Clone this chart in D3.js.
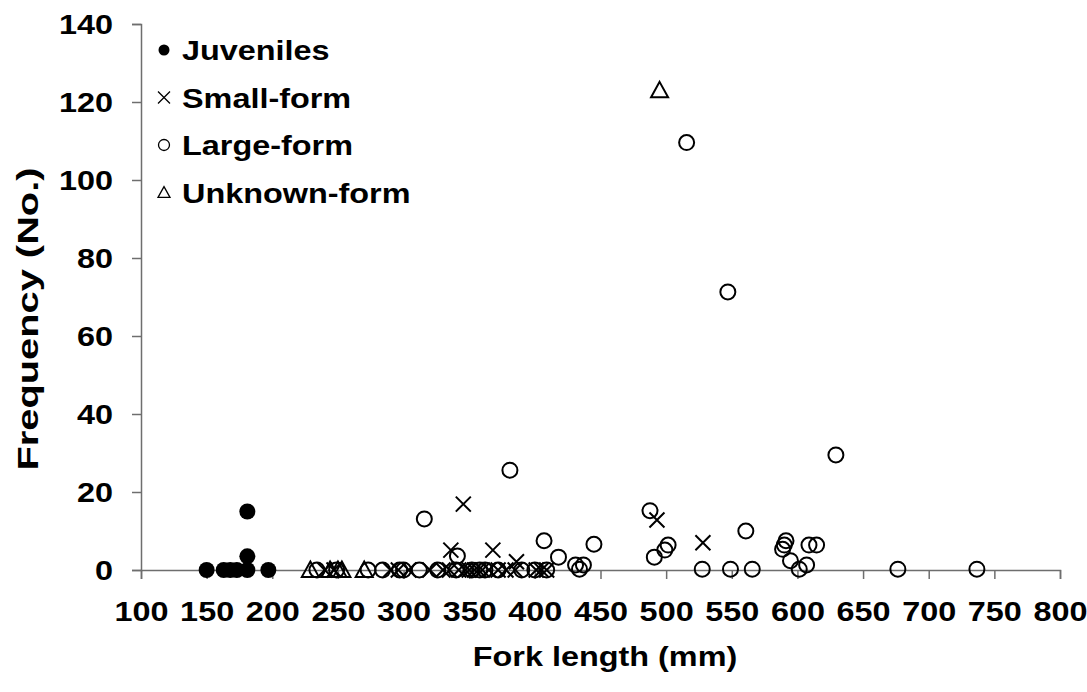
<!DOCTYPE html>
<html>
<head>
<meta charset="utf-8">
<script src="https://cdn.jsdelivr.net/npm/d3@7"></script>
<style>
  body { margin: 0; background: #fff; }
  text { font-family: "Liberation Sans", Arial, sans-serif; font-weight: bold; fill: #000; }
</style>
</head>
<body>
<svg id="chart" width="1087" height="692"></svg>
<script>
// ---- data ----
const juvenileLength = [150, 163, 168, 173, 181, 181, 181, 197];
const juvenileFreq   = [0, 0, 0, 0, 0, 3.5, 15, 0];

const smallLength = [240, 247, 290, 296, 304, 320, 330, 336, 335, 342, 345.5, 347, 350, 354, 357, 360, 365, 368, 372, 378, 385, 386, 401, 405, 409, 493, 528];
const smallFreq   = [0, 0, 0, 0, 0, 0, 0, 5.1, 0, 0, 16.9, 0, 0, 0, 0, 0, 0, 5.1, 0, 0, 0, 2.1, 0, 0, 0, 12.8, 7.0];

const largeLength = [234, 249, 273, 284, 297, 300, 312, 315.8, 326, 340, 341, 352, 358, 362, 372, 381, 390, 400, 407, 409, 418, 431, 434, 437, 445, 487.7, 491, 499, 501.5, 515.6, 527.5, 547, 549, 560.7, 565.6, 588.7, 590, 591.3, 594.7, 601.4, 607, 608.8, 614.6, 629.3, 676.5, 736.7];
const largeFreq   = [0, 0, 0, 0, 0, 0, 0, 13.1, 0, 0, 3.6, 0, 0, 0, 0, 25.6, 0, 0, 7.5, 0, 3.3, 1.3, 0.2, 1.3, 6.6, 15.2, 3.3, 5.1, 6.4, 109.6, 0.2, 71.3, 0.2, 10, 0.2, 5.3, 6.4, 7.5, 2.4, 0.2, 1.3, 6.4, 6.4, 29.5, 0.2, 0.2];

const unknownLength = [229, 244, 250, 253, 270, 495];
const unknownFreq   = [0, 0, 0, 0, 0, 123];

const xTicks = [100, 150, 200, 250, 300, 350, 400, 450, 500, 550, 600, 650, 700, 750, 800];
const yTicks = [0, 20, 40, 60, 80, 100, 120, 140];
const legendLabels = ["Juveniles", "Small-form", "Large-form", "Unknown-form"];
const seriesKeys = ["juvenile", "small", "large", "unknown"];

// ---- layout ----
const svg = d3.select("#chart");
const x = d3.scaleLinear().domain([100, 800]).range([141, 1060]);
const y = d3.scaleLinear().domain([0, 140]).range([570, 24]);
const axisColor = "#6e6e6e";
const SX = 1.2; // horizontal text stretch

// axes (lines + ticks via d3 axis, labels restyled with stretch)
const xAxis = svg.append("g").attr("transform", `translate(0,${y(0)})`)
  .call(d3.axisBottom(x).tickValues(xTicks).tickSize(9).tickFormat(d3.format("d")));
const yAxis = svg.append("g").attr("transform", `translate(${x(100)},0)`)
  .call(d3.axisLeft(y).tickValues(yTicks).tickSize(9).tickFormat(d3.format("d")));
[xAxis, yAxis].forEach(g => {
  g.select(".domain").attr("stroke", axisColor).attr("stroke-width", 1.5);
  g.selectAll(".tick line").attr("stroke", axisColor).attr("stroke-width", 1.5);
  g.selectAll(".tick text").attr("font-size", 27)
    .attr("font-family", "Liberation Sans, Arial, sans-serif").attr("font-weight", "bold").attr("fill", "#000");
});
xAxis.selectAll(".tick text")
  .attr("y", null).attr("dy", null).attr("x", null)
  .attr("text-anchor", "middle")
  .attr("transform", `translate(0,51) scale(${SX},1)`);
yAxis.selectAll(".tick text")
  .attr("x", null).attr("dy", "0.35em")
  .attr("text-anchor", "end")
  .attr("transform", `translate(-28,0) scale(${SX},1)`);

// axis titles
svg.append("text").attr("transform", `translate(605,666) scale(${SX},1)`).attr("text-anchor", "middle")
  .attr("font-size", 27).text("Fork length (mm)");
svg.append("text").attr("transform", `translate(38,319) rotate(-90) scale(1.35,1)`)
  .attr("text-anchor", "middle").attr("font-size", 29.5).text("Frequency (No.)");

// markers
function drawMarker(g, kind, cx, cy, s, sw) {
  if (kind === "juvenile") {
    g.append("circle").attr("cx", cx).attr("cy", cy).attr("r", s).attr("fill", "#000");
  } else if (kind === "large") {
    g.append("circle").attr("cx", cx).attr("cy", cy).attr("r", s).attr("fill", "none")
      .attr("stroke", "#000").attr("stroke-width", sw);
  } else if (kind === "small") {
    g.append("path").attr("d", `M${cx - s},${cy - s}L${cx + s},${cy + s}M${cx - s},${cy + s}L${cx + s},${cy - s}`)
      .attr("stroke", "#000").attr("stroke-width", sw).attr("fill", "none");
  } else {
    const h = s * 1.8;
    g.append("path").attr("d", `M${cx},${cy - h * 0.55}L${cx + s},${cy + h * 0.45}L${cx - s},${cy + h * 0.45}Z`)
      .attr("stroke", "#000").attr("stroke-width", sw).attr("fill", "none");
  }
}

const pts = svg.append("g");
const series = [
  { key: "small", len: smallLength, f: smallFreq, s: 7.5 },
  { key: "large", len: largeLength, f: largeFreq, s: 7.5 },
  { key: "unknown", len: unknownLength, f: unknownFreq, s: 8.5 },
  { key: "juvenile", len: juvenileLength, f: juvenileFreq, s: 8 }
];
series.forEach(se => {
  se.len.forEach((l, i) => drawMarker(pts, se.key, x(l), y(se.f[i]), se.s, 2));
});

// legend
const leg = svg.append("g");
const legSizes = { juvenile: 5.5, small: 6, large: 5.5, unknown: 6 };
legendLabels.forEach((lab, i) => {
  const cy = 50 + i * 47.5;
  drawMarker(leg, seriesKeys[i], 164, cy, legSizes[seriesKeys[i]], 1.3);
  leg.append("text").attr("transform", `translate(182,${cy + 10}) scale(${SX},1)`)
    .attr("font-size", 27).text(lab);
});
</script>
</body>
</html>
